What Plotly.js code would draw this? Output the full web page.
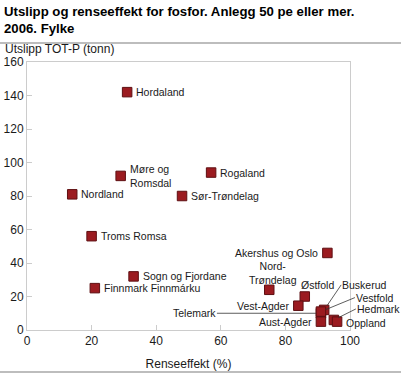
<!DOCTYPE html>
<html>
<head>
<meta charset="utf-8">
<script src="https://cdn.plot.ly/plotly-3.0.1.min.js"></script>
<style>
html,body{margin:0;padding:0;background:#fff;}
#chart{width:401px;height:375px;}
</style>
</head>
<body>
<div id="chart"></div>
<script>
// ---- Data ----
var fylker = ["Hordaland","Møre og Romsdal","Nordland","Rogaland","Sør-Trøndelag","Troms Romsa",
  "Sogn og Fjordane","Finnmark Finnmárku","Akershus og Oslo","Nord-Trøndelag","Østfold","Vest-Agder",
  "Telemark","Buskerud","Vestfold","Aust-Agder","Hedmark","Oppland"];
var labels = ["Hordaland","Møre og<br>Romsdal","Nordland","Rogaland","Sør-Trøndelag","Troms Romsa",
  "Sogn og Fjordane","Finnmark Finnmárku","Akershus og Oslo","Nord-<br>Trøndelag","Østfold","Vest-Agder",
  "Telemark","Buskerud","Vestfold","Aust-Agder","Hedmark","Oppland"];
var renseeffekt = [31, 29, 14, 57, 48, 20, 33, 21, 93, 75, 86, 84, 91, 92, 91, 91, 95, 96];
var utslipp     = [142, 92, 81, 94, 80, 56, 32, 25, 46, 24, 20, 14.5, 10, 12, 11, 5, 6, 5];
var xTicks = [0, 20, 40, 60, 80, 100];
var yTicks = [0, 20, 40, 60, 80, 100, 120, 140, 160];

// ---- Label placement styles (pixel offsets, not data) ----
var labelStyle = {
  "Hordaland":{xa:"left",dx:7,dy:0},
  "Møre og Romsdal":{xa:"left",dx:7,dy:0},
  "Nordland":{xa:"left",dx:7,dy:0},
  "Rogaland":{xa:"left",dx:7,dy:0},
  "Sør-Trøndelag":{xa:"left",dx:7,dy:0},
  "Troms Romsa":{xa:"left",dx:7,dy:0},
  "Sogn og Fjordane":{xa:"left",dx:7,dy:0},
  "Finnmark Finnmárku":{xa:"left",dx:7,dy:0},
  "Akershus og Oslo":{xa:"right",dx:-7,dy:0},
  "Nord-Trøndelag":{xa:"center",dx:4,dy:17},
  "Østfold":{xa:"left",dx:-6,dy:12},
  "Vest-Agder":{xa:"right",dx:-7,dy:0},
  "Aust-Agder":{xa:"right",dx:-7,dy:0},
  "Oppland":{xa:"left",dx:7,dy:-1},
  "Telemark":{arrow:true,xa:"right",ax:-104,ay:0},
  "Buskerud":{arrow:true,xa:"left",ax:17,ay:-25},
  "Vestfold":{arrow:true,xa:"left",ax:34,ay:-14},
  "Hedmark":{arrow:true,xa:"left",ax:22,ay:-11}
};

var textFont = {family:"Liberation Sans, Arial, sans-serif", size:10.5, color:"#1a1a1a"};
var annotations = [];
for (var i = 0; i < fylker.length; i++) {
  var s = labelStyle[fylker[i]];
  if (s.arrow) {
    annotations.push({x:renseeffekt[i], y:utslipp[i], xref:"x", yref:"y", text:labels[i],
      showarrow:true, arrowhead:0, arrowwidth:0.8, arrowcolor:"#333", standoff:5, borderpad:0,
      ax:s.ax, ay:s.ay, xanchor:s.xa, yanchor:"middle", font:textFont});
  } else {
    annotations.push({x:renseeffekt[i], y:utslipp[i], xref:"x", yref:"y", text:labels[i],
      showarrow:false, xanchor:s.xa, yanchor:"middle", xshift:s.dx, yshift:s.dy,
      align:(s.xa==="center"?"center":"left"), font:textFont});
  }
}
// y-axis title placed horizontally above the axis
annotations.push({xref:"paper", yref:"paper", x:-24/323, y:1+13/268, xanchor:"left", yanchor:"middle",
  text:"Utslipp TOT-P (tonn)", showarrow:false,
  font:{family:"Liberation Sans, Arial, sans-serif", size:12, color:"#1a1a1a"}});

var trace = {
  type:"scatter", mode:"markers", x:renseeffekt, y:utslipp, text:fylker,
  hoverinfo:"text+x+y",
  marker:{symbol:"square", size:9.5, color:"#9b1b20", line:{color:"#5e0f12", width:1}}
};

var axisFont = {family:"Liberation Sans, Arial, sans-serif", size:12, color:"#1a1a1a"};
var layout = {
  width:401, height:375,
  margin:{l:27, r:51, t:62, b:45, pad:0},
  paper_bgcolor:"#fff", plot_bgcolor:"#fff",
  showlegend:false,
  title:{text:"Utslipp og renseeffekt for fosfor. Anlegg 50 pe eller mer.<br>2006. Fylke",
    font:{family:"Liberation Sans, Arial, sans-serif", size:13.2, color:"#000", weight:"bold"},
    xref:"container", yref:"container", x:4/401, xanchor:"left", y:1-16/375, yanchor:"middle"},
  xaxis:{range:[0,100], tickvals:xTicks, ticktext:xTicks.map(String), showgrid:false, zeroline:false,
    showline:true, linecolor:"#cccccc", linewidth:1, mirror:true,
    ticks:"inside", ticklen:5, tickcolor:"#cccccc", tickfont:axisFont,
    title:{text:"Renseeffekt (%)", font:axisFont, standoff:12}},
  yaxis:{range:[0,160], tickvals:yTicks, ticktext:yTicks.map(String), showgrid:false, zeroline:false,
    showline:true, linecolor:"#cccccc", linewidth:1, mirror:true,
    ticks:"inside", ticklen:5, tickcolor:"#cccccc", tickfont:axisFont},
  annotations:annotations,
  shapes:[
    {type:"line", xref:"paper", yref:"paper", x0:-27/323, x1:374/323, y0:1+19/268, y1:1+19/268,
      line:{color:"#bdbdbd", width:2}},
    {type:"line", xref:"paper", yref:"paper", x0:-27/323, x1:374/323, y0:-42/268, y1:-42/268,
      line:{color:"#bdbdbd", width:2}}
  ]
};

Plotly.newPlot("chart", [trace], layout, {displayModeBar:false, staticPlot:true});
</script>
</body>
</html>
